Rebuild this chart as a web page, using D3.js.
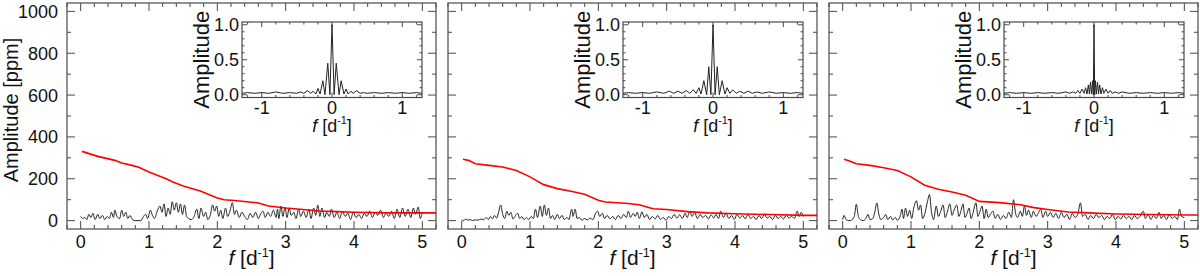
<!DOCTYPE html>
<html>
<head>
<meta charset="utf-8">
<script src="https://cdn.jsdelivr.net/npm/d3@7"></script>
<style>
  body { margin: 0; background: #fff; }
  svg { display: block; }
  text { font-family: "Liberation Sans", Arial, Helvetica, sans-serif; fill: #111; }
</style>
</head>
<body>
<svg id="chart" width="1200" height="276"></svg>
<script>
// tick values
const xTicks = [0, 1, 2, 3, 4, 5];
const yTicks = [0, 200, 400, 600, 800, 1000];
const insetXTicks = [-1, 0, 1];
const insetYTicks = [0, 0.5, 1];

// amplitude spectra [f, ppm]
const spec1 = [[0,20],[0.03,10],[0.06,15],[0.09,5],[0.12,30],[0.15,15],[0.18,35],[0.21,5],[0.25,30],[0.28,10],[0.32,25],[0.35,5],[0.39,20],[0.42,10],[0.45,40],[0.48,15],[0.5,50],[0.53,20],[0.57,10],[0.6,50],[0.63,20],[0.66,40],[0.69,10],[0.72,25],[0.76,5],[0.8,0],[0.88,0],[0.92,20],[0.95,30],[0.98,10],[1.02,50],[1.05,25],[1.08,10],[1.12,45],[1.16,70],[1.19,40],[1.22,80],[1.25,20],[1.28,60],[1.31,30],[1.34,90],[1.37,50],[1.4,85],[1.43,40],[1.46,80],[1.49,30],[1.52,75],[1.55,20],[1.58,10],[1.62,5],[1.66,20],[1.7,55],[1.73,10],[1.76,60],[1.8,20],[1.83,40],[1.86,5],[1.9,30],[1.93,75],[1.96,45],[1.99,70],[2.02,20],[2.05,50],[2.08,10],[2.12,60],[2.15,20],[2.18,40],[2.22,85],[2.25,30],[2.28,50],[2.32,15],[2.36,40],[2.4,20],[2.44,5],[2.48,35],[2.52,15],[2.56,40],[2.6,10],[2.63,30],[2.67,45],[2.7,15],[2.74,40],[2.78,20],[2.82,50],[2.86,15],[2.88,55],[2.9,10],[2.93,70],[2.96,20],[2.99,65],[3.02,15],[3.05,60],[3.08,25],[3.12,40],[3.15,10],[3.19,55],[3.22,20],[3.26,45],[3.3,15],[3.34,55],[3.37,10],[3.41,60],[3.44,25],[3.47,75],[3.5,20],[3.53,60],[3.57,15],[3.6,40],[3.64,20],[3.67,55],[3.71,15],[3.75,40],[3.79,10],[3.83,45],[3.87,20],[3.91,35],[3.95,5],[3.99,40],[4.03,15],[4.07,30],[4.11,10],[4.15,35],[4.19,20],[4.23,45],[4.27,15],[4.31,40],[4.35,25],[4.39,50],[4.43,15],[4.47,35],[4.51,20],[4.55,45],[4.59,10],[4.63,55],[4.67,15],[4.71,60],[4.75,20],[4.79,55],[4.83,15],[4.87,60],[4.9,30],[4.94,65],[4.97,10],[5.0,40]];
const spec2 = [[0,3],[0.03,0],[0.06,8],[0.09,2],[0.12,5],[0.16,0],[0.2,4],[0.24,2],[0.28,8],[0.32,4],[0.36,15],[0.39,5],[0.42,20],[0.45,8],[0.48,25],[0.51,12],[0.54,40],[0.57,75],[0.6,30],[0.63,10],[0.66,45],[0.69,25],[0.72,40],[0.75,8],[0.78,20],[0.82,35],[0.85,10],[0.88,20],[0.91,5],[0.95,15],[0.98,5],[1.02,20],[1.05,10],[1.08,55],[1.11,15],[1.15,70],[1.18,20],[1.21,75],[1.24,25],[1.27,60],[1.3,10],[1.33,25],[1.36,5],[1.4,30],[1.43,10],[1.47,25],[1.5,5],[1.54,15],[1.57,5],[1.61,55],[1.63,20],[1.66,55],[1.69,10],[1.72,15],[1.76,2],[1.8,10],[1.84,3],[1.88,12],[1.92,5],[1.96,35],[1.99,45],[2.02,20],[2.06,35],[2.09,10],[2.13,25],[2.17,8],[2.21,20],[2.25,5],[2.29,25],[2.33,10],[2.37,30],[2.41,15],[2.44,45],[2.47,15],[2.51,35],[2.54,20],[2.57,40],[2.6,10],[2.64,42],[2.67,15],[2.71,30],[2.75,5],[2.79,20],[2.83,8],[2.87,25],[2.91,5],[2.95,15],[2.99,2],[3.03,20],[3.07,10],[3.11,30],[3.15,12],[3.19,28],[3.23,10],[3.27,35],[3.3,15],[3.34,45],[3.37,20],[3.41,38],[3.45,10],[3.49,30],[3.53,15],[3.57,25],[3.61,8],[3.65,28],[3.69,12],[3.72,30],[3.76,10],[3.79,45],[3.83,15],[3.87,35],[3.91,10],[3.95,25],[3.99,5],[4.03,30],[4.07,12],[4.11,25],[4.15,8],[4.19,30],[4.23,10],[4.27,20],[4.31,5],[4.35,25],[4.39,10],[4.43,30],[4.47,12],[4.51,20],[4.55,5],[4.59,25],[4.63,10],[4.67,20],[4.71,8],[4.75,25],[4.79,12],[4.83,20],[4.87,10],[4.91,45],[4.94,20],[4.97,40],[5.0,20]];
const spec3 = [[0,5],[0.02,25],[0.05,5],[0.09,0],[0.13,3],[0.17,20],[0.2,78],[0.23,20],[0.26,5],[0.3,0],[0.34,10],[0.37,30],[0.4,5],[0.44,10],[0.47,40],[0.5,84],[0.53,30],[0.56,5],[0.6,15],[0.63,30],[0.66,5],[0.7,20],[0.73,3],[0.77,15],[0.8,2],[0.84,20],[0.87,55],[0.89,10],[0.92,60],[0.95,20],[0.98,50],[1.01,10],[1.04,60],[1.08,95],[1.11,50],[1.14,75],[1.17,10],[1.2,30],[1.24,90],[1.27,125],[1.3,40],[1.33,5],[1.37,70],[1.4,20],[1.43,40],[1.47,75],[1.5,15],[1.53,40],[1.57,80],[1.6,25],[1.63,50],[1.67,75],[1.7,20],[1.73,45],[1.76,80],[1.79,15],[1.82,35],[1.85,60],[1.88,10],[1.91,40],[1.95,85],[1.98,20],[2.01,45],[2.04,70],[2.07,10],[2.1,55],[2.13,15],[2.17,35],[2.2,45],[2.23,10],[2.27,30],[2.31,5],[2.35,25],[2.39,10],[2.43,40],[2.47,15],[2.5,100],[2.53,35],[2.56,15],[2.6,45],[2.63,20],[2.66,70],[2.69,25],[2.72,50],[2.76,15],[2.79,45],[2.83,20],[2.87,40],[2.9,55],[2.93,15],[2.97,45],[3.0,20],[3.04,40],[3.08,15],[3.12,35],[3.16,10],[3.2,40],[3.24,15],[3.28,30],[3.32,5],[3.36,35],[3.4,15],[3.44,30],[3.48,85],[3.51,20],[3.55,30],[3.59,5],[3.63,25],[3.67,10],[3.71,30],[3.75,15],[3.79,25],[3.83,5],[3.87,20],[3.91,10],[3.95,30],[3.99,5],[4.03,20],[4.07,8],[4.11,25],[4.15,10],[4.19,20],[4.23,5],[4.27,25],[4.31,10],[4.35,20],[4.4,45],[4.43,10],[4.47,30],[4.51,5],[4.55,25],[4.59,10],[4.63,40],[4.66,10],[4.7,25],[4.74,5],[4.78,30],[4.82,10],[4.86,20],[4.9,5],[4.93,55],[4.96,20],[5.0,15]];

// red noise level [f, ppm]
const noise1 = [[0.02,331],[0.25,307],[0.5,288],[0.6,275],[0.75,264],[0.85,255],[1.0,232],[1.25,200],[1.35,185],[1.5,166],[1.75,142],[2.0,108],[2.1,100],[2.25,96],[2.5,88],[2.6,84],[2.75,70],[3.0,60],[3.25,53],[3.5,46],[3.75,43],[4.0,40],[4.5,37],[5.0,37],[5.2,37]];
const noise2 = [[0.02,293],[0.1,288],[0.2,272],[0.4,264],[0.6,256],[0.8,240],[1.0,209],[1.2,172],[1.4,153],[1.6,140],[1.8,126],[2.0,97],[2.1,89],[2.4,83],[2.6,76],[2.8,57],[3.0,53],[3.3,43],[3.6,37],[4.0,33],[4.5,29],[5.0,25],[5.2,25]];
const noise3 = [[0.02,293],[0.1,285],[0.2,272],[0.4,264],[0.6,253],[0.8,240],[1.0,209],[1.2,169],[1.4,150],[1.6,137],[1.8,121],[2.0,92],[2.3,86],[2.6,76],[2.8,62],[3.0,53],[3.3,41],[3.6,37],[4.0,32],[4.5,29],[5.0,27],[5.2,27]];

// spectral windows [f, normalised amplitude]
const win1 = [[-1.28,0.02],[-1.2,0.03],[-1.1,0.02],[-1.0,0.03],[-0.9,0.02],[-0.8,0.04],[-0.7,0.02],[-0.6,0.03],[-0.5,0.02],[-0.45,0.04],[-0.4,0.02],[-0.35,0.06],[-0.3,0.02],[-0.27,0.05],[-0.23,0.01],[-0.2,0.09],[-0.17,0.01],[-0.13,0.2],[-0.1,0.0],[-0.06,0.45],[-0.03,0.0],[0,1.0],[0.03,0.0],[0.06,0.45],[0.1,0.0],[0.13,0.2],[0.17,0.01],[0.2,0.08],[0.23,0.01],[0.27,0.05],[0.3,0.02],[0.35,0.06],[0.4,0.02],[0.45,0.03],[0.5,0.02],[0.6,0.03],[0.7,0.02],[0.8,0.03],[0.9,0.02],[1.0,0.03],[1.1,0.02],[1.2,0.03],[1.28,0.02]];
const win2 = [[-1.28,0.02],[-1.2,0.03],[-1.1,0.02],[-1.0,0.03],[-0.9,0.02],[-0.8,0.04],[-0.7,0.02],[-0.62,0.05],[-0.56,0.02],[-0.5,0.05],[-0.44,0.02],[-0.38,0.06],[-0.33,0.02],[-0.28,0.07],[-0.24,0.02],[-0.2,0.1],[-0.17,0.01],[-0.13,0.2],[-0.09,0.0],[-0.06,0.4],[-0.03,0.0],[0,1.0],[0.03,0.0],[0.06,0.4],[0.09,0.0],[0.13,0.2],[0.17,0.01],[0.2,0.1],[0.24,0.02],[0.28,0.07],[0.33,0.02],[0.38,0.05],[0.44,0.02],[0.5,0.05],[0.56,0.02],[0.62,0.04],[0.7,0.02],[0.8,0.04],[0.9,0.02],[1.0,0.03],[1.1,0.02],[1.2,0.03],[1.28,0.02]];
const win3 = [[-1.28,0.02],[-1.2,0.03],[-1.1,0.02],[-1.0,0.03],[-0.9,0.02],[-0.8,0.03],[-0.7,0.02],[-0.6,0.03],[-0.5,0.02],[-0.4,0.04],[-0.35,0.02],[-0.3,0.04],[-0.26,0.02],[-0.23,0.06],[-0.2,0.02],[-0.17,0.08],[-0.14,0.02],[-0.12,0.1],[-0.1,0.01],[-0.08,0.14],[-0.065,0.01],[-0.05,0.18],[-0.035,0.01],[-0.02,0.2],[-0.01,0.0],[0,1.0],[0.01,0.0],[0.02,0.2],[0.035,0.01],[0.05,0.18],[0.065,0.01],[0.08,0.14],[0.1,0.01],[0.12,0.1],[0.14,0.02],[0.17,0.08],[0.2,0.02],[0.23,0.06],[0.26,0.02],[0.3,0.04],[0.35,0.02],[0.4,0.04],[0.5,0.02],[0.6,0.03],[0.7,0.02],[0.8,0.03],[0.9,0.02],[1.0,0.03],[1.1,0.02],[1.2,0.03],[1.28,0.02]];

const panels = [
    { left: 67, spec: spec1, noise: noise1, win: win1, yLabels: true },
    { left: 448, spec: spec2, noise: noise2, win: win2, yLabels: false },
    { left: 829, spec: spec3, noise: noise3, win: win3, yLabels: false }
];

const svg = d3.select('#chart');
const frameColor = '#4a4a4a';

const panelTop = 3, width = 369, height = 226;

// ticks on all four sides, pointing inward
function frameTicks(g, x, y, w, h, major, minorX, minorY, majorX, majorY) {
    g.append('rect')
        .attr('x', 0).attr('y', 0).attr('width', w).attr('height', h)
        .attr('fill', 'none').attr('stroke', frameColor).attr('stroke-width', 1.2);

    const tick = (vals, len, horizontal) => {
        vals.forEach(v => {
            if (horizontal) {
                const px = x(v);
                g.append('line').attr('x1', px).attr('x2', px).attr('y1', h).attr('y2', h - len);
                g.append('line').attr('x1', px).attr('x2', px).attr('y1', 0).attr('y2', len);
            } else {
                const py = y(v);
                g.append('line').attr('x1', 0).attr('x2', len).attr('y1', py).attr('y2', py);
                g.append('line').attr('x1', w).attr('x2', w - len).attr('y1', py).attr('y2', py);
            }
        });
    };
    tick(majorX, major, true);
    tick(minorX, major / 2, true);
    tick(majorY, major, false);
    tick(minorY, major / 2, false);
    g.selectAll('line').attr('stroke', frameColor).attr('stroke-width', 1);
}

function fLabel(sel, size) {
    sel.append('tspan').attr('font-style', 'italic').text('f');
    sel.append('tspan').text(' [d');
    sel.append('tspan').attr('font-size', size * 0.6).attr('dy', -size * 0.4).text('-1');
    sel.append('tspan').attr('dy', size * 0.4).text(']');
}

panels.forEach(p => {
    const g = svg.append('g').attr('transform', `translate(${p.left},${panelTop})`);

    const x = d3.scaleLinear().domain([-0.2, 5.2]).range([0, width]);
    const y = d3.scaleLinear().domain([-40, 1040]).range([height, 0]);

    const minorX = d3.range(-0.2, 5.21, 0.2).map(v => +v.toFixed(1)).filter(v => !xTicks.includes(v));
    const minorY = d3.range(100, 1000, 200);
    frameTicks(g, x, y, width, height, 8, minorX, minorY, xTicks, yTicks);

    const clip = 'clip' + p.left;
    g.append('clipPath').attr('id', clip)
        .append('rect').attr('width', width).attr('height', height);

    const line = d3.line()
        .x(d => x(d[0]))
        .y(d => y(d[1]));

    g.append('path')
        .datum(p.spec)
        .attr('clip-path', `url(#${clip})`)
        .attr('fill', 'none')
        .attr('stroke', '#222')
        .attr('stroke-width', 1)
        .attr('d', line.curve(d3.curveMonotoneX));

    g.append('path')
        .datum(p.noise)
        .attr('clip-path', `url(#${clip})`)
        .attr('fill', 'none')
        .attr('stroke', '#ff0000')
        .attr('stroke-width', 1.6)
        .attr('d', d3.line().x(d => x(d[0])).y(d => y(d[1]))(p.noise));

    // x tick labels
    g.selectAll('.xl')
        .data(xTicks)
        .join('text')
        .attr('x', d => x(d))
        .attr('y', 245)
        .attr('text-anchor', 'middle')
        .attr('font-size', 18)
        .text(d => d);

    g.append('text')
        .attr('x', width / 2)
        .attr('y', 262)
        .attr('text-anchor', 'middle')
        .attr('font-size', 21)
        .call(fLabel, 21);

    if (p.yLabels) {
        g.selectAll('.yl')
            .data(yTicks)
            .join('text')
            .attr('x', -9)
            .attr('y', d => y(d))
            .attr('dy', '0.36em')
            .attr('text-anchor', 'end')
            .attr('font-size', 18)
            .text(d => d);

        g.append('text')
            .attr('transform', `translate(${-49},${107}) rotate(-90)`)
            .attr('text-anchor', 'middle')
            .attr('font-size', 20)
            .text('Amplitude [ppm]');
    }

    // inset with the spectral window
    const iw = 180, ih = 75.5;
    const ig = g.append('g').attr('transform', `translate(175,19)`);
    ig.append('rect').attr('width', iw).attr('height', ih).attr('fill', '#fff');

    const ix = d3.scaleLinear().domain([-1.28, 1.28]).range([0, iw]);
    const iy = d3.scaleLinear().domain([-0.04, 1.04]).range([ih, 0]);

    const iMinorX = d3.range(-1.2, 1.21, 0.2).map(v => +v.toFixed(1)).filter(v => !insetXTicks.includes(v));
    const iMinorY = d3.range(0.1, 1.01, 0.1).map(v => +v.toFixed(1)).filter(v => !insetYTicks.includes(v));
    frameTicks(ig, ix, iy, iw, ih, 5, iMinorX, iMinorY, insetXTicks, insetYTicks);

    ig.append('path')
        .datum(p.win)
        .attr('fill', 'none')
        .attr('stroke', '#222')
        .attr('stroke-width', 1)
        .attr('d', d3.line().x(d => ix(d[0])).y(d => iy(d[1])));

    ig.selectAll('.ixl')
        .data(insetXTicks)
        .join('text')
        .attr('x', d => ix(d))
        .attr('y', ih + 16)
        .attr('text-anchor', 'middle')
        .attr('font-size', 18)
        .text(d => d);

    ig.selectAll('.iyl')
        .data(insetYTicks)
        .join('text')
        .attr('x', -3)
        .attr('y', d => iy(d))
        .attr('dy', '0.36em')
        .attr('text-anchor', 'end')
        .attr('font-size', 18)
        .text(d => d.toFixed(1));

    ig.append('text')
        .attr('x', iw / 2)
        .attr('y', ih + 34)
        .attr('text-anchor', 'middle')
        .attr('font-size', 18)
        .call(fLabel, 18);

    ig.append('text')
        .attr('transform', `translate(${-33},${ih / 2}) rotate(-90)`)
        .attr('text-anchor', 'middle')
        .attr('font-size', 22)
        .text('Amplitude');
});
</script>
</body>
</html>
